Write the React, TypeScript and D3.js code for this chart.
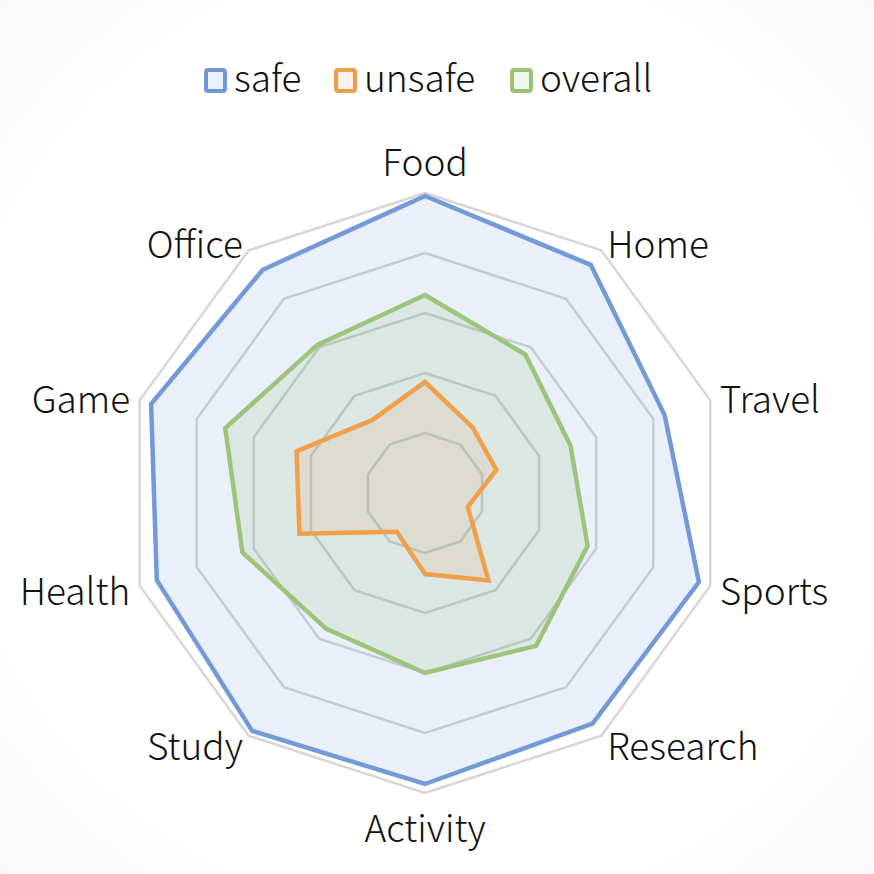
import * as d3 from 'd3';

const categories = ['Food', 'Home', 'Travel', 'Sports', 'Research', 'Activity', 'Study', 'Health', 'Game', 'Office'];
const safe = [99, 94, 84, 96, 95, 97, 98, 94, 96, 92];
const unsafe = [37, 27, 25, 15, 36, 27, 16, 44, 45, 30];
const overall = [66, 57, 51, 57, 63, 60, 56, 64, 70, 61];
const ticks = [20, 40, 60, 80, 100];

const series = [
  { name: 'safe', values: safe, stroke: '#7399d6', fill: '#4472c4', fillOpacity: 0.11 },
  { name: 'overall', values: overall, stroke: '#9cc47b', fill: '#70ad47', fillOpacity: 0.12 },
  { name: 'unsafe', values: unsafe, stroke: '#f0a04b', fill: '#ed7d31', fillOpacity: 0.1 },
];
const legendOrder = ['safe', 'unsafe', 'overall'];

const WIDTH = 874;
const HEIGHT = 874;
const CX = 425;
const CY = 493;
const R = 300;
const FONT = '"Noto Sans CJK SC", "Noto Sans", sans-serif';

export default function App() {
  const r = d3.scaleLinear().domain([0, 100]).range([0, R]);
  const angle = d3
    .scaleLinear()
    .domain([0, categories.length])
    .range([0, 2 * Math.PI]);

  const radial = d3
    .lineRadial<number>()
    .angle((_, i) => angle(i))
    .radius((d) => r(d))
    .curve(d3.curveLinearClosed);

  const grid = ticks.map((t) => (
    <path
      key={t}
      d={radial(categories.map(() => t)) ?? ''}
      fill="none"
      stroke="#d6d6d6"
      strokeWidth={2.5}
      strokeLinejoin="miter"
    />
  ));

  const areas = series.map((s) => (
    <g key={s.name}>
      <path d={radial(s.values) ?? ''} fill={s.fill} fillOpacity={s.fillOpacity} stroke="none" />
    </g>
  ));

  const lines = series.map((s) => (
    <path
      key={s.name}
      d={radial(s.values) ?? ''}
      fill="none"
      stroke={s.stroke}
      strokeWidth={4.5}
      strokeLinejoin="miter"
    />
  ));

  const labels = categories.map((c, i) => {
    const a = angle(i);
    const sx = Math.sin(a);
    const isVert = Math.abs(sx) < 0.01;
    const lr = isVert ? R + 33 : R + 10;
    const x = lr * sx;
    const y = -lr * Math.cos(a);
    const anchor = isVert ? 'middle' : sx > 0 ? 'start' : 'end';
    return (
      <text
        key={c}
        x={x}
        y={y}
        textAnchor={anchor}
        dominantBaseline="central"
        fontSize={37}
        fontWeight={300}
        fontFamily={FONT}
        fill="#111"
      >
        {c}
      </text>
    );
  });

  const legendX = [204, 334, 510];
  const legend = legendOrder.map((name, i) => {
    const s = series.find((d) => d.name === name)!;
    return (
      <g key={name} transform={`translate(${legendX[i]}, 68)`}>
        <rect x={2} y={2} width={19} height={21} rx={2} fill="#fff" stroke={s.stroke} strokeWidth={4} />
        <rect x={2} y={2} width={19} height={21} rx={2} fill={s.fill} fillOpacity={0.1} />
        <text x={30} y={24} fontSize={37} fontWeight={300} fontFamily={FONT} fill="#111">
          {name}
        </text>
      </g>
    );
  });

  return (
    <svg
      width={WIDTH}
      height={HEIGHT}
      style={{ position: 'absolute', left: 0, top: 0 }}
    >
      <defs>
        <radialGradient id="bg" cx="50%" cy="50%" r="72%">
          <stop offset="75%" stopColor="#ffffff" />
          <stop offset="100%" stopColor="#f8f8f8" />
        </radialGradient>
      </defs>
      <rect width={WIDTH} height={HEIGHT} fill="url(#bg)" />
      {legend}
      <g transform={`translate(${CX}, ${CY})`}>
        {grid}
        {areas}
        {lines}
        {labels}
      </g>
    </svg>
  );
}
